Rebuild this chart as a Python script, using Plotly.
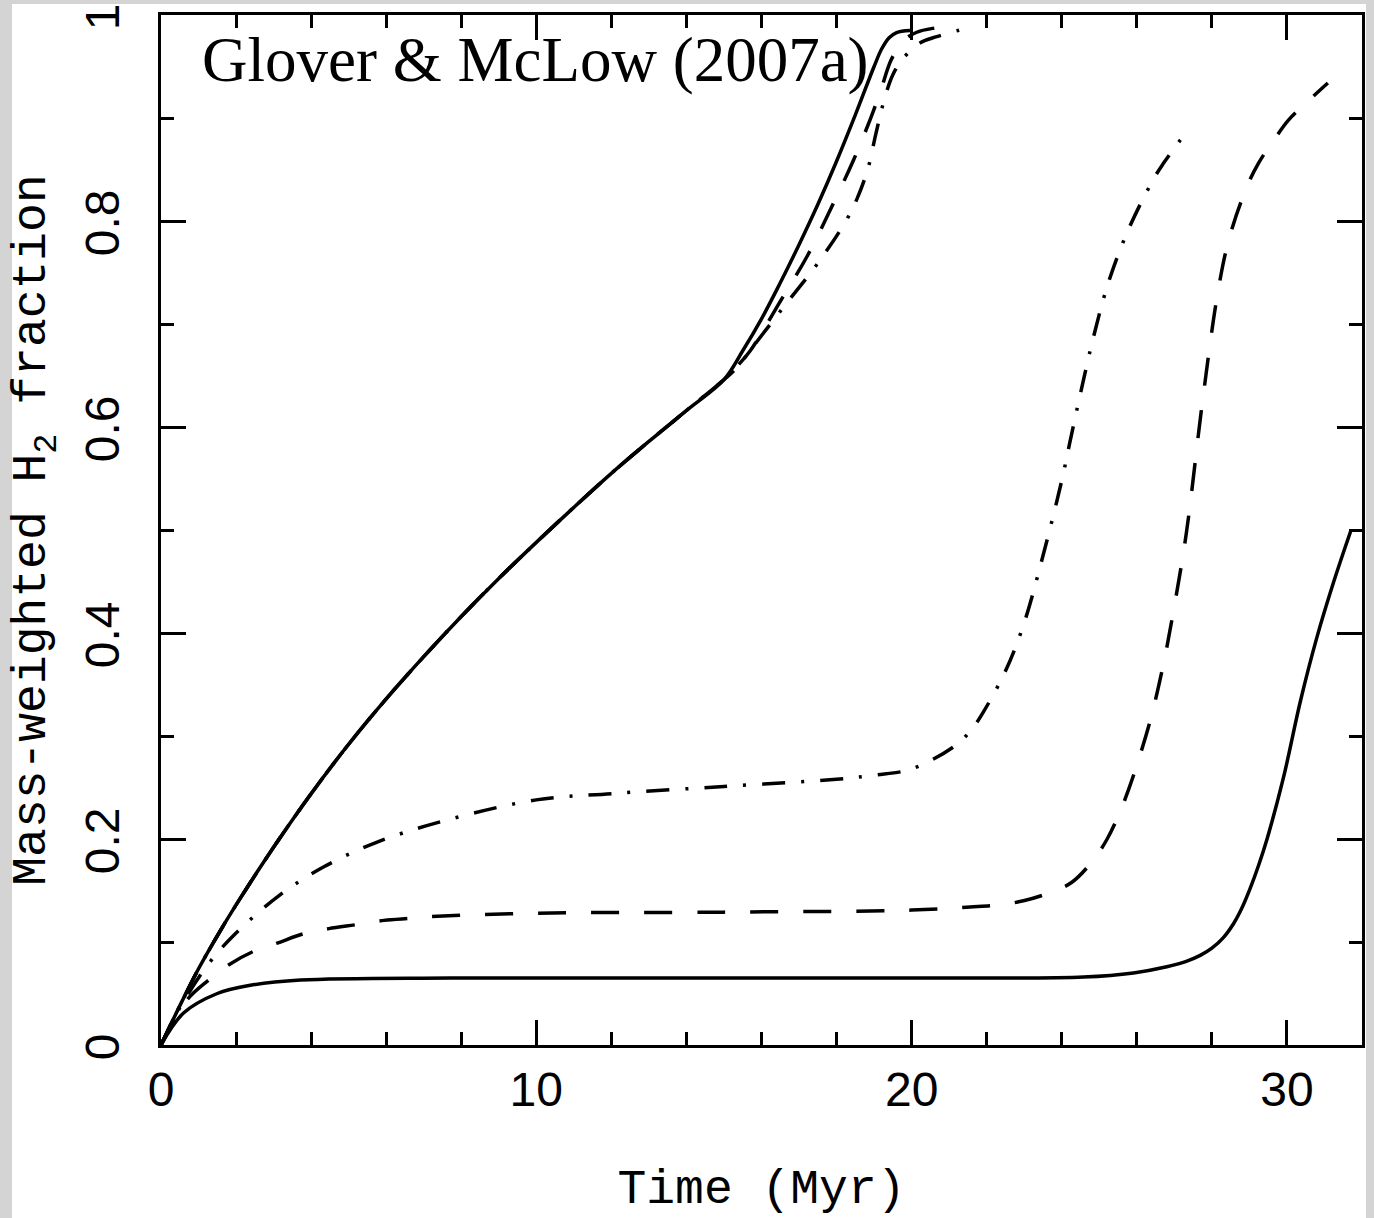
import plotly.graph_objects as go

# Early evolution shared by the three fast-converging runs (Myr, H2 fraction)
t_common = [0, 0.5, 1, 1.5, 2, 3, 4, 5, 6, 7, 8, 9, 10, 11, 12, 13, 14, 15]
f_common = [0, 0.038, 0.074, 0.106, 0.136, 0.192, 0.244, 0.292, 0.336, 0.377,
            0.416, 0.453, 0.488, 0.522, 0.555, 0.586, 0.616, 0.646]

# Late branches of the fast runs
t_top_solid = [15.5, 16, 16.5, 17, 17.5, 18, 18.5, 19, 19.2, 19.4, 19.6, 19.96]
f_top_solid = [0.674, 0.705, 0.74, 0.777, 0.816, 0.858, 0.903, 0.95, 0.967, 0.978, 0.983, 0.985]

t_top_dash = [15.3, 15.7, 16.5, 17.22, 17.9, 18.45, 18.9, 19.17, 19.45, 19.75, 20.12, 20.56, 21.0]
f_top_dash = [0.657, 0.674, 0.722, 0.766, 0.816, 0.859, 0.899, 0.926, 0.956, 0.974, 0.983, 0.987, 0.988]

t_top_dashdot = [15.3, 15.9, 16.6, 17.5, 18.25, 18.55, 18.83, 19.05, 19.25, 19.5, 19.78, 20.23,
                 20.67, 21.24, 21.66]
f_top_dashdot = [0.656, 0.684, 0.717, 0.759, 0.80, 0.822, 0.85, 0.885, 0.915, 0.942, 0.958, 0.973,
                 0.979, 0.985, 0.989]

# Slower runs
t_low_dashdot = [0, 0.5, 1.27, 1.98, 3.18, 4.34, 5.76, 7.58, 10, 12, 15, 18, 19, 20, 21.21,
                 21.65, 21.89, 22.5, 23, 23.5, 24, 24.21, 24.52, 24.85, 25.25, 25.78,
                 26.45, 26.71, 27.31]
f_low_dashdot = [0, 0.036, 0.079, 0.108, 0.146, 0.173, 0.197, 0.218, 0.238, 0.244, 0.251,
                 0.258, 0.262, 0.268, 0.292, 0.309, 0.322, 0.363, 0.41, 0.475, 0.548, 0.584,
                 0.636, 0.688, 0.741, 0.792, 0.841, 0.856, 0.886]

t_low_dash = [0, 0.7, 1.27, 1.81, 2.47, 3.10, 3.80, 4.47, 5.23, 5.94, 6.65, 7.36, 10, 15,
              20, 21.56, 22.32, 22.98, 23.69, 24.27, 24.85, 25.21, 25.56, 25.78, 26.03,
              26.38, 26.71, 26.98, 27.32, 27.74, 28.16, 28.46, 28.93, 29.24, 29.66, 30.04,
              30.58, 31.09]
f_low_dash = [0, 0.044, 0.063, 0.078, 0.091, 0.099, 0.108, 0.113, 0.117, 0.121, 0.123,
              0.125, 0.128, 0.129, 0.131, 0.134, 0.136, 0.140, 0.148, 0.158, 0.18, 0.2,
              0.227, 0.248, 0.275, 0.318, 0.37, 0.422, 0.497, 0.622, 0.731, 0.783, 0.833,
              0.856, 0.879, 0.898, 0.917, 0.934]

t_low_solid = [0, 0.6, 1.5, 2.38, 3.72, 7.71, 15, 21, 24.58, 25.91, 26.8, 27.3, 27.69, 28.0,
               28.3, 28.58, 28.8, 29.02, 29.25, 29.47, 29.91, 30.36, 30.8, 31.24, 31.7]
f_low_solid = [0, 0.031, 0.05, 0.058, 0.063, 0.065, 0.065, 0.065, 0.066, 0.07, 0.076, 0.081,
               0.087, 0.094, 0.104, 0.118, 0.133, 0.152, 0.175, 0.2, 0.26, 0.334, 0.396,
               0.449, 0.499]

x_ticks = [0, 10, 20, 30]
y_ticks = [0, 0.2, 0.4, 0.6, 0.8, 1]
y_ticktext = ["0", "0.2", "0.4", "0.6", "0.8", "1"]

SOLID = "solid"
DASH = "28px,25px"
DASHDOT = "23px,16px,3px,16px"

series = [
    (t_low_dashdot, f_low_dashdot, DASHDOT),
    (t_low_dash, f_low_dash, DASH),
    (t_low_solid, f_low_solid, SOLID),
    (t_common + t_top_dashdot, f_common + f_top_dashdot, DASHDOT),
    (t_common + t_top_dash, f_common + f_top_dash, DASH),
    (t_common + t_top_solid, f_common + f_top_solid, SOLID),
]

fig = go.Figure()
for t, f, dash in series:
    fig.add_trace(go.Scatter(
        x=t, y=f, mode="lines",
        line=dict(color="black", width=3.5, dash=dash, shape="spline", smoothing=1.0),
        hoverinfo="skip",
    ))

W, H = 1374, 1218
L, R, T, B = 161, 12, 15, 173
pw, ph = W - L - R, H - T - B

axis_common = dict(
    showline=True, linewidth=3, linecolor="black", mirror="allticks",
    ticks="inside", ticklen=25, tickwidth=3, tickcolor="black",
    showgrid=False, zeroline=False, ticklabeloverflow="allow", automargin=False,
)

fig.update_layout(
    width=W, height=H,
    margin=dict(l=L, r=R, t=T, b=B, pad=0),
    paper_bgcolor="#d4d4d4", plot_bgcolor="white",
    showlegend=False,
    xaxis=dict(
        range=[0, 32], tickmode="array", tickvals=x_ticks,
        ticktext=[str(v) for v in x_ticks],
        minor=dict(dtick=2, tick0=0, ticks="inside", ticklen=13, tickwidth=3, tickcolor="black"),
        tickfont=dict(family="Liberation Sans", size=48, color="black"),
        ticklabelstandoff=0,
        title=dict(text="Time (Myr)", font=dict(family="Liberation Mono", size=48, color="black"),
                   standoff=55),
        **axis_common,
    ),
    yaxis=dict(
        range=[0, 1], tickmode="array", tickvals=y_ticks,
        ticktext=y_ticktext,
        tickangle=-90,
        minor=dict(dtick=0.1, tick0=0, ticks="inside", ticklen=13, tickwidth=3, tickcolor="black"),
        tickfont=dict(family="Liberation Sans", size=48, color="black"),
        ticklabelstandoff=20,
        ticklabelshift=9,
        title=dict(text="Mass-weighted H<sub>2</sub> fraction",
                   font=dict(family="Liberation Mono", size=48, color="black"),
                   standoff=15),
        **axis_common,
    ),
    shapes=[dict(
        type="rect", xref="paper", yref="paper", layer="below",
        x0=(12 - L) / pw, x1=(1366 - L) / pw,
        y0=(T + ph - H) / ph, y1=(T + ph - 4) / ph,
        fillcolor="white", line=dict(width=0),
    )],
    annotations=[dict(
        text="Glover & McLow (2007a)", xref="paper", yref="paper",
        x=(200 - L) / pw, y=(T + ph - 60) / ph, xanchor="left", yanchor="middle",
        showarrow=False,
        font=dict(family="Liberation Serif", size=63, color="black"),
    )],
)

fig.write_html("out.html")
